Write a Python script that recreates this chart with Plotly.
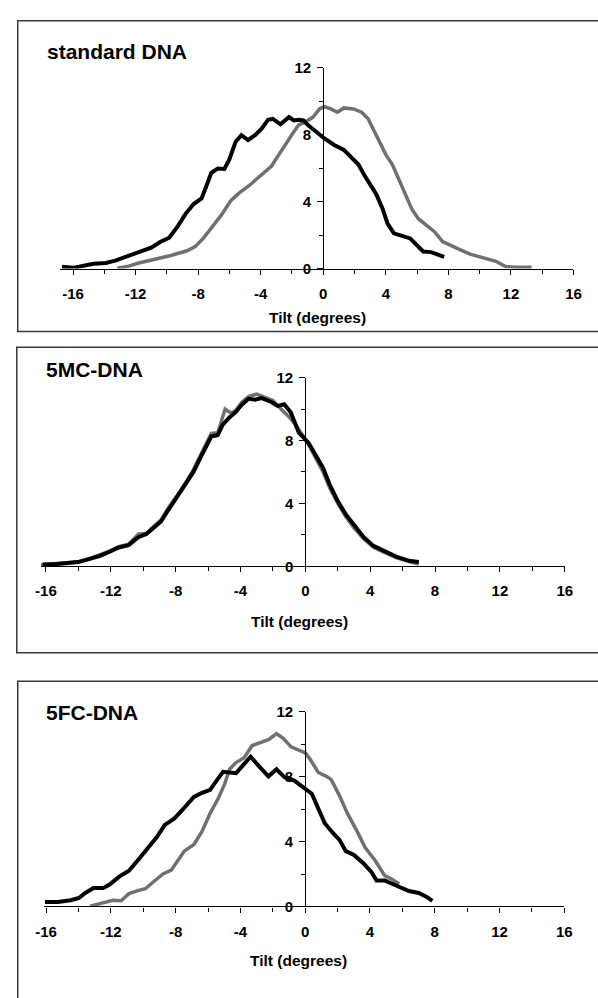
import plotly.graph_objects as go

W, H = 598, 998

# ---------------- data ----------------
panel_titles = ["standard DNA", "5MC-DNA", "5FC-DNA"]
x_axis_title = "Tilt (degrees)"
x_tick_vals = [-16, -12, -8, -4, 0, 4, 8, 12, 16]
x_tick_text = ["-16", "-12", "-8", "-4", "0", "4", "8", "12", "16"]
y_tick_vals = [0, 4, 8, 12]
y_tick_text = ["0", "4", "8", "12"]

std_black_x = [-16.7, -16.0, -14.7, -13.9, -13.3, -12.6, -11.8, -11.0, -10.4, -9.85, -9.33, -8.8, -8.29,
               -7.78, -7.47, -7.16, -6.74, -6.32, -6.01, -5.6, -5.23, -4.81, -4.36, -3.94, -3.53, -3.22,
               -2.74, -2.19, -1.88, -1.57, -1.27, -0.96, -0.45, 0.07, 0.7, 1.32, 1.73, 2.25, 2.66, 3.39,
               3.8, 4.11, 4.52, 5.04, 5.56, 5.97, 6.39, 6.9, 7.32, 7.73]
std_black_y = [0.1, 0.04, 0.28, 0.33, 0.47, 0.69, 0.98, 1.25, 1.6, 1.84, 2.49, 3.27, 3.86,
               4.19, 4.94, 5.73, 5.98, 5.96, 6.51, 7.59, 7.98, 7.69, 7.98, 8.37, 8.9, 8.96,
               8.63, 9.06, 8.86, 8.9, 8.86, 8.57, 8.18, 7.78, 7.39, 7.1, 6.71, 6.22, 5.53, 4.45,
               3.57, 2.69, 2.1, 1.96, 1.8, 1.41, 1.02, 0.98, 0.86, 0.69]
std_gray_x = [-13.16, -12.43, -11.8, -10.78, -9.74, -8.71, -8.19, -7.67, -7.16, -6.53, -5.91, -5.39,
              -4.77, -4.05, -3.32, -2.91, -2.39, -1.88, -1.57, -1.17, -0.65, -0.24, 0.07, 0.49, 0.9,
              1.32, 1.94, 2.45, 2.87, 3.28, 3.7, 4.01, 4.42, 4.83, 5.25, 5.66, 6.08, 6.6, 7.11, 7.63,
              8.15, 8.77, 9.39, 10.2, 11.04, 11.66, 12.29, 13.32]
std_gray_y = [0.02, 0.14, 0.33, 0.53, 0.78, 1.06, 1.31, 1.8, 2.39, 3.18, 4.06, 4.51,
              4.94, 5.53, 6.12, 6.71, 7.49, 8.18, 8.6, 8.76, 9.06, 9.55, 9.69, 9.55, 9.35,
              9.61, 9.55, 9.35, 8.96, 8.18, 7.39, 6.8, 6.22, 5.33, 4.35, 3.57, 2.98, 2.59, 2.2, 1.61,
              1.37, 1.12, 0.86, 0.67, 0.43, 0.12, 0.08, 0.08]

mc_black_x = [-16.2, -15.3, -14.0, -13.3, -12.7, -12.1, -11.5, -10.9, -10.3, -9.8, -9.3, -8.9, -8.5,
              -7.9, -7.3, -6.9, -6.5, -6.1, -5.8, -5.4, -5.1, -4.7, -4.3, -3.9, -3.5, -3.1, -2.7, -2.1,
              -1.7, -1.3, -0.9, -0.4, 0.2, 0.6, 1.1, 1.5, 2.0, 2.5, 3.0, 3.6, 4.2, 4.8, 5.6, 6.4, 7.0]
mc_black_y = [0.12, 0.15, 0.27, 0.48, 0.65, 0.92, 1.2, 1.35, 1.85, 2.05, 2.5, 2.85, 3.5,
              4.4, 5.3, 6.0, 6.85, 7.6, 8.25, 8.35, 9.0, 9.45, 9.8, 10.3, 10.65, 10.6, 10.7, 10.45,
              10.2, 10.3, 9.8, 8.5, 7.85, 7.15, 6.25, 5.2, 4.15, 3.3, 2.6, 1.85, 1.3, 0.98, 0.62, 0.35, 0.28]
mc_gray_x = [-16.3, -15.3, -14.0, -13.3, -12.7, -12.1, -11.5, -10.9, -10.3, -9.8, -9.3, -8.9, -8.5,
             -7.9, -7.3, -6.9, -6.5, -6.1, -5.8, -5.4, -4.95, -4.6, -4.3, -3.9, -3.5, -3.0, -2.5, -2.0,
             -1.5, -1.0, -0.6, -0.2, 0.2, 0.6, 1.1, 1.5, 2.0, 2.5, 3.0, 3.6, 4.2, 4.8, 5.6, 6.4, 7.0]
mc_gray_y = [0.1, 0.2, 0.3, 0.5, 0.7, 0.95, 1.25, 1.4, 2.05, 2.1, 2.6, 2.95, 3.65,
             4.5, 5.45, 6.15, 7.0, 7.8, 8.45, 8.5, 10.0, 9.75, 9.9, 10.45, 10.8, 10.95, 10.75, 10.55,
             10.0, 9.5, 9.0, 8.4, 7.75, 6.95, 6.0, 5.0, 4.0, 3.15, 2.45, 1.75, 1.22, 0.92, 0.55, 0.3, 0.15]

fc_black_x = [-16.07, -15.28, -14.48, -13.97, -13.58, -13.07, -12.47, -12.08, -11.48, -10.88, -10.28,
              -9.68, -9.17, -8.67, -8.07, -7.47, -6.87, -6.37, -5.87, -5.47, -5.07, -4.27, -3.87, -3.37,
              -2.87, -2.27, -1.77, -1.27, -0.67, -0.37, 0.01, 0.41, 0.81, 1.21, 1.71, 2.11, 2.51, 3.01,
              3.61, 4.11, 4.41, 4.91, 5.61, 6.41, 7.01, 7.51, 7.85]
fc_black_y = [0.28, 0.28, 0.38, 0.52, 0.83, 1.13, 1.13, 1.35, 1.84, 2.2, 2.91,
              3.66, 4.26, 5.03, 5.43, 6.08, 6.75, 7.01, 7.19, 7.76, 8.3, 8.22, 8.71, 9.23,
              8.67, 8.02, 8.46, 7.96, 7.76, 7.5, 7.25, 6.95, 6.04, 5.13, 4.53, 4.12, 3.41, 3.17,
              2.65, 2.1, 1.6, 1.6, 1.29, 0.95, 0.83, 0.59, 0.35]
fc_gray_x = [-13.28, -12.47, -11.87, -11.37, -10.88, -10.28, -9.87, -9.27, -8.78, -8.27, -7.87, -7.47,
             -6.87, -6.37, -5.87, -5.37, -4.97, -4.67, -4.27, -3.77, -3.27, -2.67, -2.27, -1.77, -1.37,
             -0.87, -0.37, 0.01, 0.31, 0.81, 1.31, 1.61, 2.11, 2.61, 3.21, 3.71, 4.31, 4.61, 4.91, 5.31, 5.81]
fc_gray_y = [0.02, 0.22, 0.38, 0.35, 0.79, 0.99, 1.09, 1.6, 2.0, 2.24, 2.81, 3.41,
             3.82, 4.63, 5.74, 6.65, 7.56, 8.46, 8.87, 9.17, 9.92, 10.12, 10.28, 10.65, 10.38,
             9.84, 9.64, 9.47, 9.07, 8.26, 8.02, 7.82, 6.85, 5.74, 4.63, 3.62, 2.85, 2.4, 1.9, 1.7, 1.39]

series = [
    (std_gray_x, std_gray_y, std_black_x, std_black_y),
    (mc_gray_x, mc_gray_y, mc_black_x, mc_black_y),
    (fc_gray_x, fc_gray_y, fc_black_x, fc_black_y),
]

# ---------------- layout geometry (pixels) ----------------
panels = [
    dict(xr=[-16.8, 16], xd=(53, 581), yd=(60, 264), box=(9, 12, 328),
         title=(37, 43), xt=(318, 314)),
    dict(xr=[-16.3, 16], xd=(33, 572), yd=(375, 567), box=(8, 344, 655),
         title=(36, 367), xt=(299, 623)),
    dict(xr=[-16.1, 16], xd=(36.5, 571.5), yd=(715, 913), box=(9, 684, None),
         title=(36, 716), xt=(298, 968)),
]

def px(x):
    return x / W

def py(y):
    return 1 - y / H

GRAY = "#707070"
BLACK = "#000000"
FONT = "Liberation Sans, Arial, sans-serif"
tickfont = dict(family=FONT, size=15, color="#000", weight="bold")

fig = go.Figure()
layout = dict(width=W, height=H, margin=dict(l=0, r=0, t=0, b=0),
              paper_bgcolor="white", plot_bgcolor="white", showlegend=False,
              shapes=[], annotations=[])

for i, (p, (gx, gy, bx, by)) in enumerate(zip(panels, series)):
    n = "" if i == 0 else str(i + 1)
    xa, ya = "x" + n, "y" + n
    fig.add_trace(go.Scatter(x=gx, y=gy, mode="lines", xaxis=xa, yaxis=ya,
                             line=dict(color=GRAY, width=3.5), hoverinfo="skip"))
    fig.add_trace(go.Scatter(x=bx, y=by, mode="lines", xaxis=xa, yaxis=ya,
                             line=dict(color=BLACK, width=4), hoverinfo="skip"))
    x0_px = p["xd"][0] + (0 - p["xr"][0]) / (p["xr"][1] - p["xr"][0]) * (p["xd"][1] - p["xd"][0])
    layout["xaxis" + n] = dict(
        domain=[px(p["xd"][0]), px(p["xd"][1])], range=p["xr"], anchor=ya,
        showgrid=False, zeroline=False, showline=True, linecolor="#000", linewidth=1.2,
        tickmode="array", tickvals=x_tick_vals, ticktext=x_tick_text,
        ticks="outside", ticklen=5, tickwidth=1.2,
        tickcolor="#000", tickfont=tickfont, ticklabelstandoff=6,
        minor=dict(dtick=2, tick0=0, ticks="outside", ticklen=4, tickwidth=1.2, tickcolor="#000"),
        fixedrange=True)
    layout["yaxis" + n] = dict(
        domain=[py(p["yd"][1]), py(p["yd"][0])], range=[0, 12], anchor="free",
        position=px(x0_px), showgrid=False, zeroline=False, showline=True,
        linecolor="#000", linewidth=1.2,
        tickmode="array", tickvals=y_tick_vals, ticktext=y_tick_text,
        ticks="outside", ticklen=6, tickwidth=1.2,
        tickcolor="#000", tickfont=tickfont, ticklabelstandoff=3,
        minor=dict(dtick=2, tick0=0, ticks="outside", ticklen=4, tickwidth=1.2, tickcolor="#000"),
        fixedrange=True)
    # open frame: left, top and bottom edges (the right edge lies outside the picture)
    bx0, bt, bb = p["box"]
    xl, xr_ = px(bx0), 1.05
    yt = py(bt)
    if bb is None:
        path = f"M {xr_},{yt} L {xl},{yt} L {xl},-0.05"
    else:
        yb = py(bb)
        path = f"M {xr_},{yt} L {xl},{yt} L {xl},{yb} L {xr_},{yb}"
    layout["shapes"].append(dict(type="path", xref="paper", yref="paper", path=path,
                                 line=dict(color="#3a3a3a", width=1.5), layer="below"))
    layout["annotations"].append(dict(
        text=panel_titles[i], xref="paper", yref="paper", x=px(p["title"][0]), y=py(p["title"][1]),
        xanchor="left", yanchor="middle", showarrow=False,
        font=dict(family=FONT, size=21, color="#000", weight="bold")))
    layout["annotations"].append(dict(
        text=x_axis_title, xref="paper", yref="paper", x=px(p["xt"][0]), y=py(p["xt"][1]),
        xanchor="center", yanchor="middle", showarrow=False,
        font=dict(family=FONT, size=15.5, color="#000", weight="bold")))

fig.update_layout(**layout)
fig.write_html("out.html", config={"displayModeBar": False},
               post_script="document.body.style.margin='0';document.body.style.overflow='hidden';")
